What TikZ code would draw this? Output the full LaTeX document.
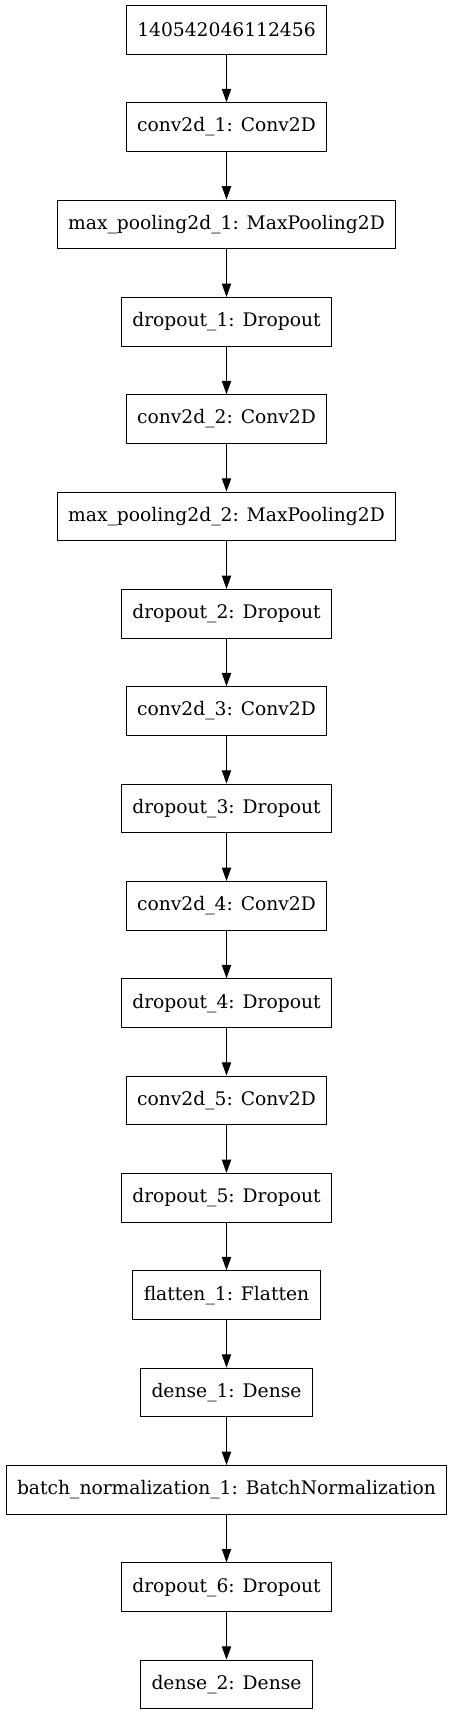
\documentclass[tikz,border=0pt]{standalone}
\usepackage{fontspec}
\setmainfont{DejaVu Serif}
\usetikzlibrary{arrows.meta,positioning}

\begin{document}
\begin{tikzpicture}[x=1pt,y=1pt,node distance=47.67pt,
    layer/.style={draw,line width=1pt,minimum height=48.67pt,inner xsep=11pt,
      font=\fontsize{18.7}{22}\selectfont},
    >={Triangle[length=13.3pt,width=9.3pt]}]
  \useasboundingbox (0,0) rectangle (453,-1715);
  \node[layer] (input) at (226.5,-29.7) {140542046112456};
  \node[layer,below=of input] (conv1) {conv2d\_1: Conv2D};
  \node[layer,below=of conv1] (pool1) {max\_pooling2d\_1: MaxPooling2D};
  \node[layer,below=of pool1] (drop1) {dropout\_1: Dropout};
  \node[layer,below=of drop1] (conv2) {conv2d\_2: Conv2D};
  \node[layer,below=of conv2] (pool2) {max\_pooling2d\_2: MaxPooling2D};
  \node[layer,below=of pool2] (drop2) {dropout\_2: Dropout};
  \node[layer,below=of drop2] (conv3) {conv2d\_3: Conv2D};
  \node[layer,below=of conv3] (drop3) {dropout\_3: Dropout};
  \node[layer,below=of drop3] (conv4) {conv2d\_4: Conv2D};
  \node[layer,below=of conv4] (drop4) {dropout\_4: Dropout};
  \node[layer,below=of drop4] (conv5) {conv2d\_5: Conv2D};
  \node[layer,below=of conv5] (drop5) {dropout\_5: Dropout};
  \node[layer,below=of drop5] (flat1) {flatten\_1: Flatten};
  \node[layer,below=of flat1] (dense1) {dense\_1: Dense};
  \node[layer,below=of dense1] (bnorm1) {batch\_normalization\_1: BatchNormalization};
  \node[layer,below=of bnorm1] (drop6) {dropout\_6: Dropout};
  \node[layer,below=of drop6] (dense2) {dense\_2: Dense};
  \foreach \a/\b in {input/conv1,conv1/pool1,pool1/drop1,drop1/conv2,conv2/pool2,
      pool2/drop2,drop2/conv3,conv3/drop3,drop3/conv4,conv4/drop4,drop4/conv5,
      conv5/drop5,drop5/flat1,flat1/dense1,dense1/bnorm1,bnorm1/drop6,drop6/dense2}
    \draw[->,line width=1pt] (\a) -- (\b);
\end{tikzpicture}
\end{document}
